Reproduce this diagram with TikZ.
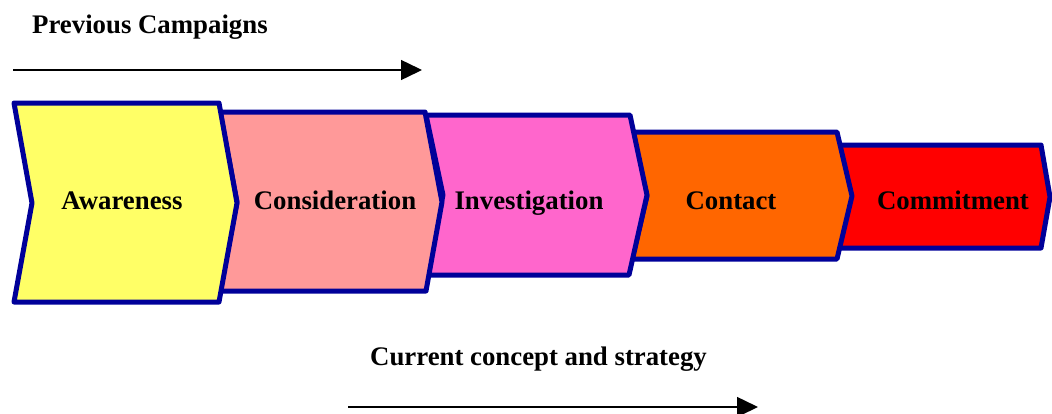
\documentclass[tikz,border=0pt]{standalone}
\usepackage{fontspec}
\setmainfont{Liberation Serif}
\usetikzlibrary{arrows.meta}
\definecolor{edgeblue}{HTML}{000099}
\definecolor{cyellow}{HTML}{FFFF66}
\definecolor{cpink}{HTML}{FF9999}
\definecolor{cmagenta}{HTML}{FF66CC}
\definecolor{corange}{HTML}{FF6600}
\definecolor{cred}{HTML}{FF0000}
\tikzset{
  chev/.style={draw=edgeblue, line width=5pt, line join=round},
  lbl/.style={font=\fontsize{26.8}{30}\selectfont\bfseries, anchor=base, inner sep=0pt},
  flow/.style={line width=1.5pt, -{Triangle[length=21pt,width=20pt]}}
}
\begin{document}
\begin{tikzpicture}[x=1pt,y=-1pt]
\useasboundingbox (0,0) rectangle (1052,413);
% chevrons, last drawn first
\draw[chev, fill=cred] (837,145) -- (1041,145) -- (1050,197) -- (1041,248) -- (837,248) -- (850,197) -- cycle;
\draw[chev, fill=corange] (632,132) -- (837,132) -- (852,196) -- (837,259) -- (632,259) -- (647,196) -- cycle;
\draw[chev, fill=cmagenta] (426,115) -- (630,115) -- (647,195) -- (629,275) -- (426,275) -- (443,195) -- cycle;
\draw[chev, fill=cpink] (220,112) -- (425,112) -- (442,202) -- (426,291) -- (220,291) -- (237,202) -- cycle;
\draw[chev, fill=cyellow] (14,103) -- (219,103) -- (237,203) -- (219,302) -- (14,302) -- (32,203) -- cycle;
% labels
\node[lbl] (aw) at (122,209) {Awareness};
\node[lbl] (co) at (335,209) {Consideration};
\node[lbl] (inv) at (529,209) {Investigation};
\node[lbl] (ct) at (731,209) {Contact};
\node[lbl] (cm) at (953,209) {Commitment};
% titles
\node[lbl, anchor=base west] (prev) at (32,33) {Previous Campaigns};
\node[lbl, anchor=base west] (curr) at (370,365) {Current concept and strategy};
% arrows
\coordinate (p1) at (13,70);
\coordinate (p2) at (422,70);
\coordinate (c1) at (348,407);
\coordinate (c2) at (758,407);
\draw[flow] (p1) -- (p2);
\draw[flow] (c1) -- (c2);
\end{tikzpicture}
\end{document}
